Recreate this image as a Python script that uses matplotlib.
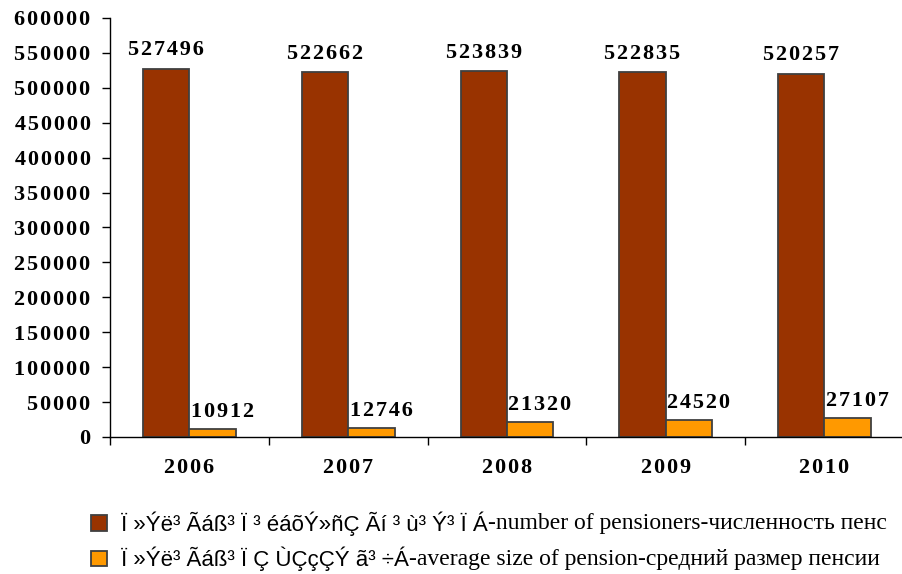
import numpy as np
import matplotlib.pyplot as plt
from matplotlib.ticker import FixedLocator, FuncFormatter

# data
years = ["2006", "2007", "2008", "2009", "2010"]
pensioners = [527496, 522662, 523839, 522835, 520257]
avg_pension = [10912, 12746, 21320, 24520, 27107]

arm1 = "Ï »Ýë³ Ãáß³ Ï ³ éáõÝ»ñÇ Ãí ³ ù³ Ý³ Ï Á"
rest1 = "-number of pensioners-численность пенс"
arm2 = "Ï »Ýë³ Ãáß³ Ï Ç ÙÇçÇÝ ã³ ÷Á"
rest2 = "-average size of pension-средний размер пенсии"

def spaced(s):
    return "\u200a".join(s)

serif = "Liberation Serif"
plt.rcParams['font.family'] = serif

fig = plt.figure(figsize=(9.02, 5.74), dpi=100)
ax = fig.add_axes([0.122, 0.2387, 0.88, 0.730])

x = np.arange(len(years))
w = 0.292
b1 = ax.bar(x - w/2, pensioners, w, color="#993300", edgecolor="#404040", linewidth=1.3, zorder=2)
b2 = ax.bar(x + w/2, avg_pension, w, color="#FF9900", edgecolor="#404040", linewidth=1.3, zorder=2)

for i in range(len(years)):
    ax.annotate(spaced(str(pensioners[i])), (x[i] - w/2, pensioners[i]), xytext=(0, 6),
                textcoords="offset points", ha="center", va="bottom",
                fontsize=16, fontweight="bold")
    ax.annotate(spaced(str(avg_pension[i])), (x[i] + w/2, avg_pension[i]), xytext=(7, 5),
                textcoords="offset points", ha="center", va="bottom",
                fontsize=16, fontweight="bold")

ax.set_xlim(-0.5, len(years) - 0.5)
ax.set_ylim(0, 600000)
ax.yaxis.set_major_locator(FixedLocator(np.arange(0, 600001, 50000)))
ax.yaxis.set_major_formatter(FuncFormatter(lambda v, p: spaced(str(int(v)))))
ax.set_xticks(x)
ax.set_xticklabels([spaced(y) for y in years])
ax.xaxis.set_minor_locator(FixedLocator(np.arange(-0.5, len(years), 1.0)))
ax.tick_params(axis="x", which="major", length=0, pad=15, labelsize=16)
ax.tick_params(axis="x", which="minor", length=6, width=1, direction="out")
ax.tick_params(axis="y", length=6, width=1, direction="out", pad=8, labelsize=16)
for lab in ax.get_xticklabels() + ax.get_yticklabels():
    lab.set_fontweight("bold")
for s in ["top", "right"]:
    ax.spines[s].set_visible(False)
ax.spines["left"].set_linewidth(1)
ax.spines["bottom"].set_linewidth(1)

leg = fig.legend([b1, b2], [arm1, arm2], loc="upper left", bbox_to_anchor=(0.094, 0.121),
                 frameon=False, handlelength=0.7, handleheight=0.7, handletextpad=0.65,
                 labelspacing=0.5, borderaxespad=0, borderpad=0.3,
                 prop={"family": "Liberation Sans", "size": 16})
fig.canvas.draw()
r = fig.canvas.get_renderer()
for t, rest in zip(leg.get_texts(), [rest1, rest2]):
    bb = t.get_window_extent(r)
    fig.text(bb.x1 / fig.bbox.width, (bb.y0 + bb.y1) / 2 / fig.bbox.height, rest,
             ha="left", va="center", fontsize=17, family=serif)

fig.savefig("out.png", dpi=100)
